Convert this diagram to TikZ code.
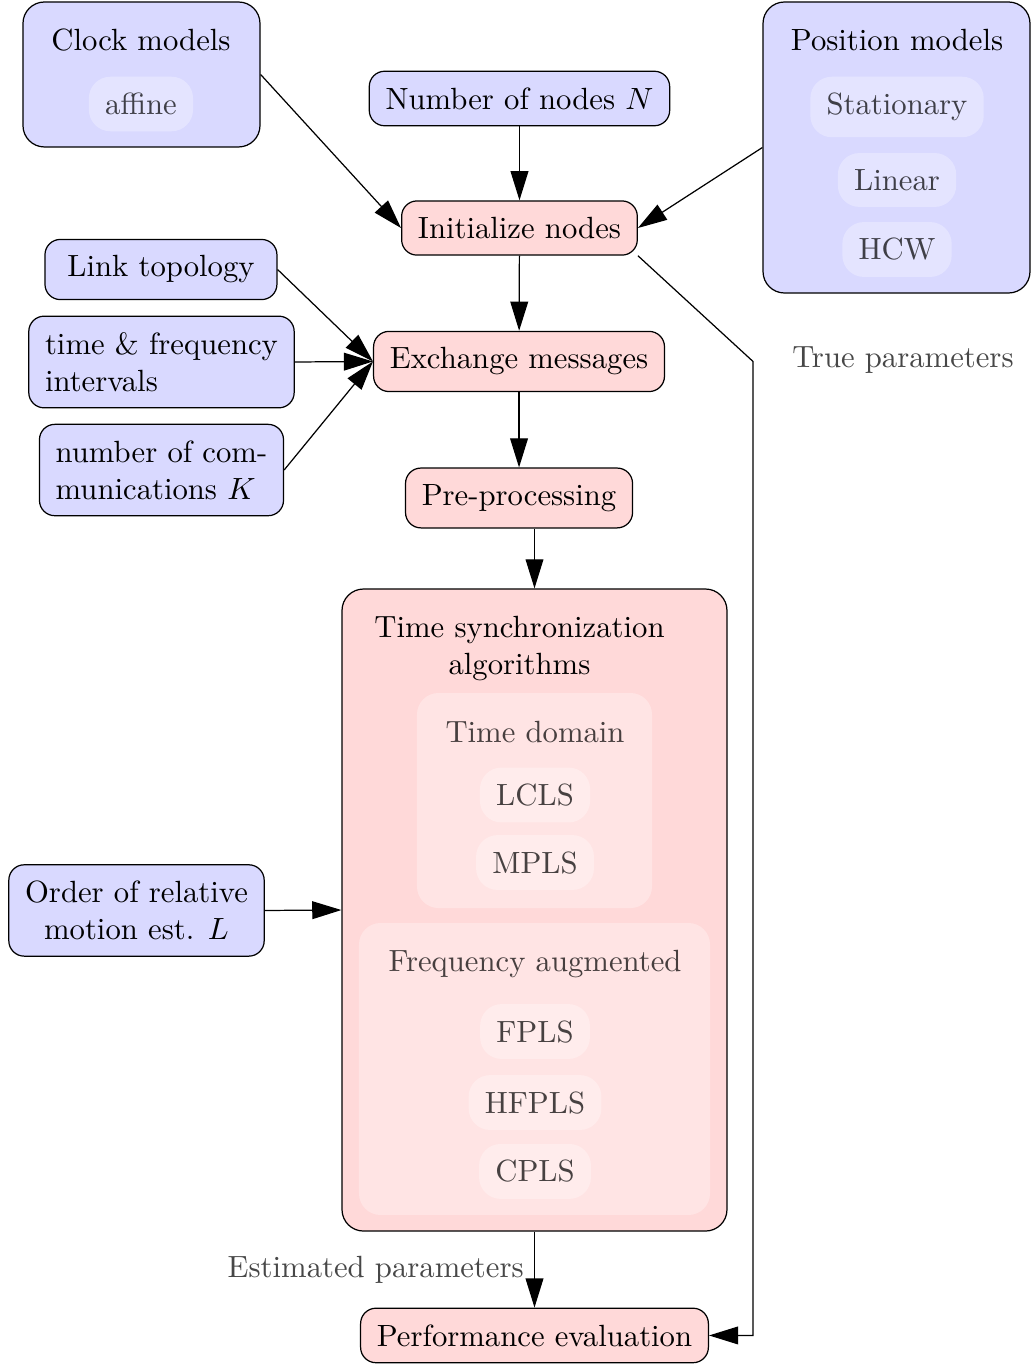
\documentclass[tikz,border=0pt]{standalone}
\usepackage{amsmath}
\usepackage{amssymb}
\usepackage{xcolor}
\usepackage{tikz}
\usetikzlibrary{
    arrows.meta,
    positioning
}

\begin{document}
\begin{tikzpicture}[->,>={Triangle[length=9.5pt,width=5.8pt]},thin]
    \tikzstyle{inbox}=[draw, rounded corners=5pt, fill=blue!15, inner sep=5.3pt, align=left]
    \tikzstyle{stagebox}=[draw, rounded corners=5pt, fill=red!15, inner sep=5.3pt]
    \tikzstyle{framebox}=[draw, rounded corners=7pt, inner sep=0pt]
    \tikzstyle{choicebox}=[rounded corners=7pt, fill=white, fill opacity=0.3, text opacity=0.72, inner sep=5.3pt]
    \tikzstyle{paramtext}=[text=black!72]
    \useasboundingbox (0,0) rectangle (11.805,-15.618);

	% inputs on top
	\node [framebox, fill=blue!15, minimum width=2.714cm, minimum height=1.66cm] (clock) at (1.62, -0.853) {};
	\node (clocktitle) at (1.614, -0.458) {Clock models};
	\node [choicebox] (affine) at (1.614, -1.191) {affine};
	\node [inbox] (number) at (5.948, -1.128) {Number of nodes $N$};
	\node [framebox, fill=blue!15, minimum width=3.057cm, minimum height=3.332cm] (position) at (10.265, -1.689) {};
	\node (positiontitle) at (10.271, -0.458) {Position models};
	\node [choicebox] (stationary) at (10.271, -1.225) {Stationary};
	\node [choicebox] (linear) at (10.271, -2.061) {Linear};
	\node [choicebox] (hcw) at (10.271, -2.857) {HCW};

	% main chain
	\node [stagebox] (init) at (5.948, -2.611) {Initialize nodes};
	\node [stagebox] (exchange) at (5.943, -4.139) {Exchange messages};
	\node [stagebox] (pre) at (5.943, -5.702) {Pre-processing};

	\node [inbox, minimum width=2.656cm] (link) at (1.843, -3.086) {Link topology};
	\node [inbox] (timefreq) at (1.849, -4.145) {time \& frequency\\ intervals};
	\node [inbox] (numcomm) at (1.849, -5.382) {number of com-\\ munications $K$};

	% synchronization block
	\node [framebox, fill=red!15, minimum width=4.408cm, minimum height=7.351cm] (ts) at (6.12, -10.42) {};
	\node [align=center] (tstitle) at (5.948, -7.43) {Time synchronization\\ algorithms};
	\node [choicebox, minimum width=2.691cm, minimum height=2.462cm] (timedomain) at (6.12, -9.166) {};
	\node [text opacity=0.72] (tdtitle) at (6.126, -8.381) {Time domain};
	\node [choicebox] (lcls) at (6.126, -9.103) {LCLS};
	\node [choicebox] (mpls) at (6.126, -9.876) {MPLS};
	\node [choicebox, minimum width=4.019cm, minimum height=3.343cm] (freqaug) at (6.12, -12.24) {};
	\node [text opacity=0.72] (fatitle) at (6.126, -11.035) {Frequency augmented};
	\node [choicebox] (fpls) at (6.126, -11.811) {FPLS};
	\node [choicebox] (hfpls) at (6.126, -12.624) {HFPLS};
	\node [choicebox] (cpls) at (6.126, -13.413) {CPLS};

	\node [inbox, align=center] (order) at (1.563, -10.425) {Order of relative\\ motion est. $L$};
	\node [stagebox] (perf) at (6.12, -15.291) {Performance evaluation};

	\coordinate (truecorner) at (8.622, -4.139);
	\node [paramtext] (truetext) at (10.339, -4.122) {True parameters};

	\draw (clock.east) -- (init.west);
	\draw (number) -- (init);
	\draw (position.west) -- (init.east);
	\draw (init) -- (exchange);
	\draw (link.east) -- (exchange.west);
	\draw (timefreq.east) -- (exchange.west);
	\draw (numcomm.east) -- (exchange.west);
	\draw (exchange) -- (pre);
	\draw (pre.south -| ts.north) -- (ts.north);
	\draw (order.east) -- (ts.west);
	\draw (ts.south) -- node [left, paramtext] {Estimated parameters} (perf.north);
	\draw (init.south east) -- (truecorner) |- (perf.east);
\end{tikzpicture}
\end{document}
